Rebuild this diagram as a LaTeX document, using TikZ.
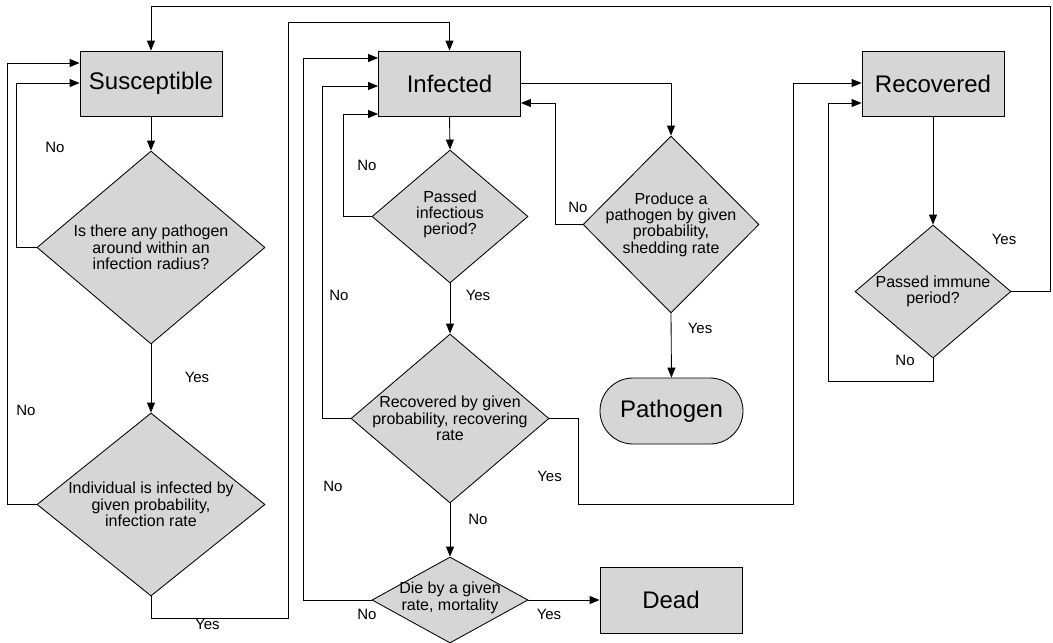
\documentclass[tikz,border=0pt]{standalone}
\usepackage{fontspec}
\setmainfont{Liberation Sans}
\usetikzlibrary{arrows.meta,shapes.geometric,shapes.misc}
\definecolor{boxfill}{RGB}{214,214,214}
\begin{document}
\begin{tikzpicture}[x=1pt,y=-1pt,
  line width=0.85pt,
  box/.style={draw, fill=boxfill, minimum width=142pt, minimum height=65pt, inner sep=0pt, font=\fontsize{24}{27}\selectfont},
  term/.style={draw, fill=boxfill, rounded rectangle, minimum width=143pt, minimum height=66pt, inner sep=0pt, font=\fontsize{24}{27}\selectfont},
  dia/.style={draw, fill=boxfill, diamond, inner sep=0pt},
  dtext/.style={align=center, inner sep=0pt, font=\fontsize{16}{16.3}\selectfont},
  lbl/.style={inner sep=0pt, font=\fontsize{15}{16}\selectfont},
  arr/.style={-{Triangle[length=10pt,width=8pt]}}
]
\useasboundingbox (0,0) rectangle (1053,643);

% boxes
\node[box] (S) at (151,83.5) {Susceptible};
\node[box] (I) at (449.5,83.5) {Infected};
\node[box] (R) at (933,83.5) {Recovered};
\node[box, minimum height=66pt] (D) at (671,600) {Dead};
\node[term] (P) at (671.5,411) {Pathogen};

% diamonds
\node[dia, minimum width=228pt, minimum height=193pt] (d1) at (151,247.5) {};
\node[dtext] (d1t) at (d1) {Is there any pathogen\\around within an\\infection radius?};
\node[dia, minimum width=228pt, minimum height=183pt] (d2) at (151,504.5) {};
\node[dtext] (d2t) at (d2) {Individual is infected by\\given probability,\\infection rate};
\node[dia, minimum width=156pt, minimum height=133pt] (dpi) at (450,216.5) {};
\node[dtext] (dpit) at ([yshift=2pt]dpi.center) {Passed\\infectious\\period?};
\node[dia, minimum width=176pt, minimum height=177pt] (dp) at (671,224.5) {};
\node[dtext] (dpt) at (dp) {Produce a\\pathogen by given\\probability,\\shedding rate};
\node[dia, minimum width=198pt, minimum height=169pt] (drec) at (450,418.5) {};
\node[dtext] (drect) at (drec) {Recovered by given\\probability, recovering\\rate};
\node[dia, minimum width=156pt, minimum height=86pt] (die) at (450,600) {};
\node[dtext] (diet) at ([yshift=2pt]die.center) {Die by a given\\rate, mortality};
\node[dia, minimum width=156pt, minimum height=133pt] (dim) at (933,291.5) {};
\node[dtext] (dimt) at (dim) {Passed immune\\period?};

% connectors
\draw[arr] (S.south) -- (d1.north);
\draw[arr] (d1.west) -- ++(-20,0) |- (S.west |- 0,83);
\draw[arr] (d1.south) -- (d2.north);
\draw[arr] (d2.west) -- ++(-29,0) |- (S.west |- 0,63);
\draw[arr] (d2.south) |- (288,618) |- (I.north |- 0,22) -- (I.north);
\draw[arr] (dim.east) -- ++(39,0) |- (S.north |- 0,6) -- (S.north);
\draw[arr] (I.south) -- (dpi.north);
\draw[arr] (dpi.west) -- ++(-28,0) |- (I.west |- 0,114);
\draw[arr] (dpi.south) -- (drec.north);
\draw[arr] (drec.west) -- ++(-28,0) |- (I.west |- 0,86);
\draw[arr] (die.west) -- ++(-68,0) |- (I.west |- 0,58);
\draw[arr] (drec.south) -- (die.north);
\draw[arr] (die.east) -- (D.west);
\draw[arr] (drec.east) -- ++(29,0) |- (793,504) |- (R.west |- 0,83);
\draw[arr] (I.east) -| (dp.north);
\draw[arr] (dp.west) -- ++(-27,0) |- (I.east |- 0,103);
\draw[arr] (dp.south) -- (P.north);
\draw[arr] (R.south) -- (dim.north);
\draw[arr] (dim.south) -- ++(0,23) -- ++(-105,0) |- (R.west |- 0,103);

% labels
\node[lbl] (l1) at (55,147) {No};
\node[lbl] (l2) at (26,410) {No};
\node[lbl] (l3) at (197,377) {Yes};
\node[lbl] (l4) at (207.5,624) {Yes};
\node[lbl] (l5) at (367,165) {No};
\node[lbl] (l6) at (339,295) {No};
\node[lbl] (l7) at (478,295) {Yes};
\node[lbl] (l8) at (578,207) {No};
\node[lbl] (l9) at (700,328) {Yes};
\node[lbl] (l10) at (1004,239) {Yes};
\node[lbl] (l11) at (905,360) {No};
\node[lbl] (l12) at (549.5,476) {Yes};
\node[lbl] (l13) at (333,486) {No};
\node[lbl] (l14) at (478,519) {No};
\node[lbl] (l15) at (367,614) {No};
\node[lbl] (l16) at (549,614) {Yes};
\end{tikzpicture}
\end{document}
